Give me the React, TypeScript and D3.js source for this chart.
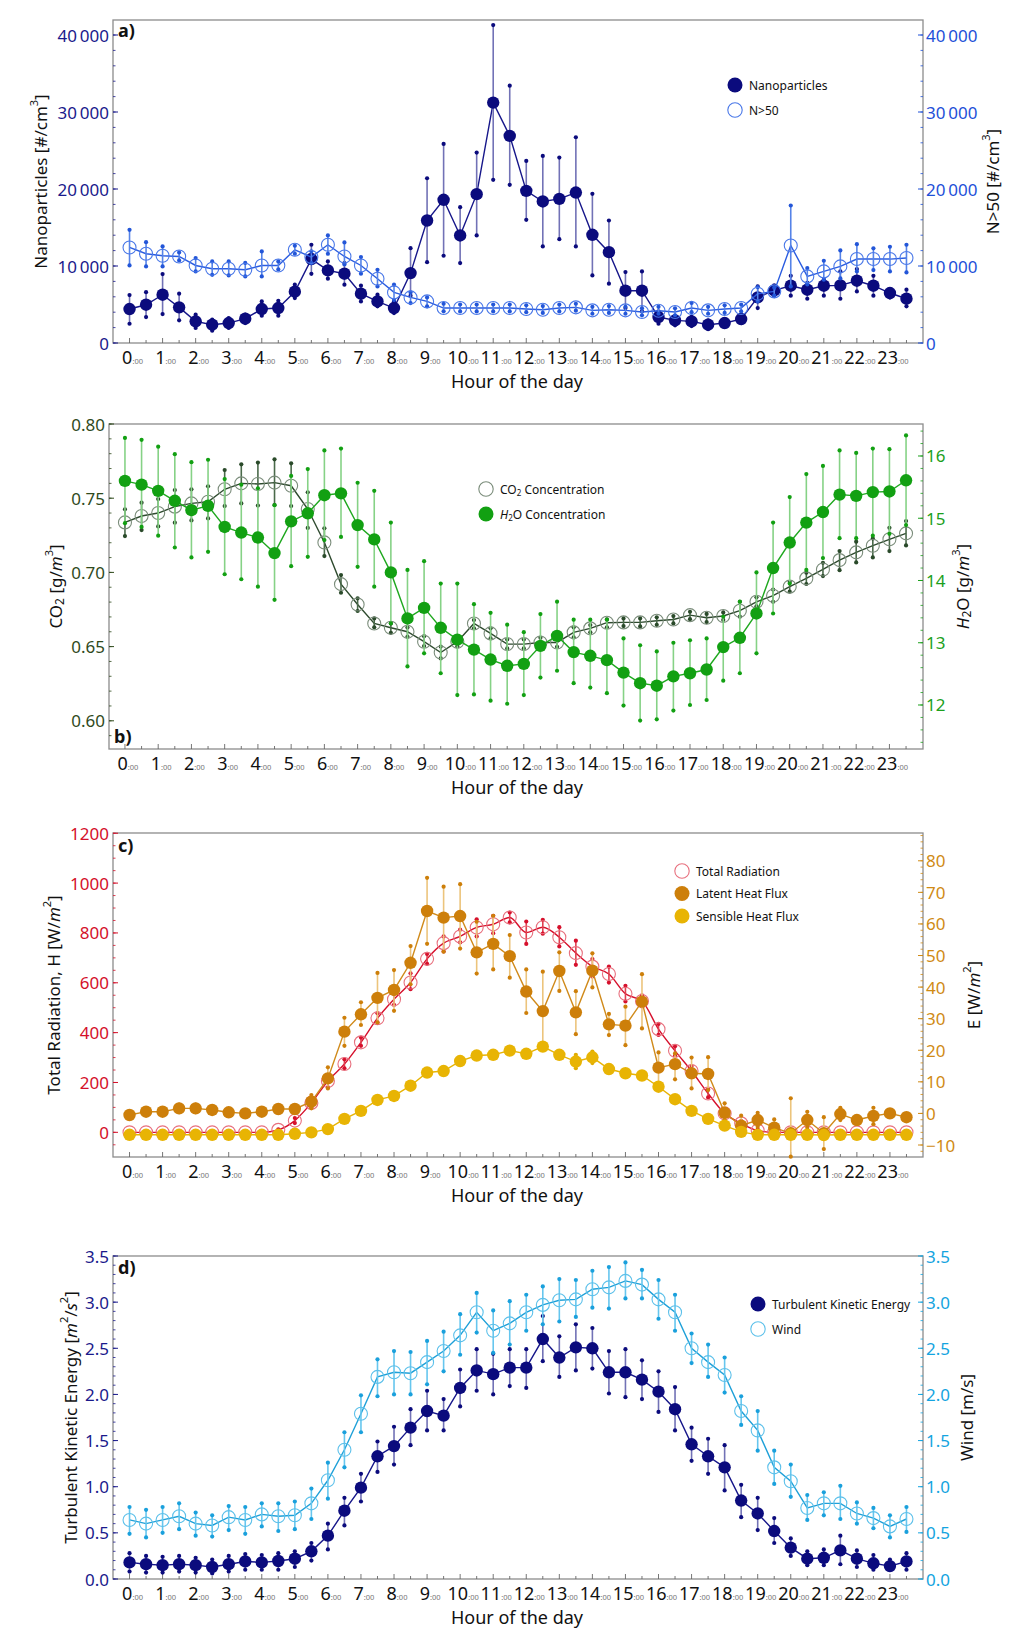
import * as d3 from 'd3'
import type { ReactNode } from 'react'

// half-hour slots of the day
const HOURS = d3.range(0, 24, 0.5)
const HOUR_TICKS = d3.range(0, 24)

// ---- panel a: particle number concentrations [#/cm3]
const NANO = [4410, 4970, 6270, 4630, 2810, 2380, 2590, 3160, 4410, 4540, 6660, 10900, 9430, 9000, 6400, 5400, 4540, 9080, 15910, 18600, 13970, 19330, 31220, 26900, 19760, 18380, 18720, 19540, 14050, 11800, 6790, 6790, 3370, 2940, 2810, 2380, 2590, 3110, 5920, 6830, 7440, 6920, 7440, 7480, 8090, 7440, 6490, 5750]
const NANO_HI = [6230, 6600, 8950, 6400, 3680, 3030, 3240, 3680, 5400, 5490, 7570, 12760, 10600, 10380, 7440, 6270, 5400, 12320, 21400, 25860, 17640, 24730, 41290, 33420, 23650, 24300, 24080, 26720, 19370, 15910, 9210, 9300, 4110, 3460, 3400, 2950, 3100, 3680, 7350, 7500, 8730, 7800, 8220, 9300, 9600, 8730, 7000, 6920]
const NANO_LO = [2500, 3370, 3760, 2940, 1950, 1600, 1950, 2590, 3550, 3550, 5840, 8990, 8350, 7570, 5400, 4760, 3890, 6140, 10500, 11330, 10380, 13970, 21190, 20540, 16000, 12540, 13490, 12540, 8780, 7700, 4540, 4110, 2500, 2290, 2200, 1800, 2100, 2590, 4540, 6100, 6140, 5750, 6140, 5750, 6700, 6140, 5900, 4760]
const N50 = [12410, 11590, 11330, 11240, 10070, 9640, 9640, 9510, 10070, 10070, 12110, 11160, 12760, 11240, 10070, 8350, 6570, 5920, 5400, 4540, 4540, 4540, 4540, 4540, 4410, 4320, 4540, 4630, 4240, 4320, 4240, 4020, 4190, 4020, 4540, 4240, 4410, 4540, 6400, 6700, 12670, 8650, 9300, 9950, 10900, 10900, 10900, 11030]
const N50_HI = [14700, 13100, 12540, 11760, 11030, 10600, 10600, 10400, 11890, 10600, 12630, 11900, 13970, 13060, 11160, 9510, 7570, 6570, 5920, 5100, 5000, 5000, 5000, 5000, 4900, 4800, 5000, 5100, 4700, 4800, 4700, 4500, 4700, 4500, 5200, 4700, 4900, 5000, 7260, 7200, 17860, 9730, 10680, 12020, 12840, 12300, 12500, 12760]
const N50_LO = [10070, 9950, 9950, 10720, 9300, 8860, 8770, 8650, 8650, 9550, 11590, 10380, 11590, 10200, 9000, 7350, 5580, 5190, 4760, 4110, 4100, 4100, 4100, 4100, 4000, 3900, 4100, 4200, 3800, 3900, 3800, 3600, 3800, 3600, 4000, 3800, 3900, 4100, 5400, 6140, 7350, 7600, 8220, 8390, 9300, 9470, 9300, 9170]

// ---- panel b: CO2 and H2O concentrations [g/m3]
const CO2 = [0.7337, 0.738, 0.740, 0.7443, 0.7465, 0.7476, 0.756, 0.760, 0.7596, 0.7605, 0.7584, 0.7427, 0.7202, 0.6921, 0.6784, 0.6656, 0.6627, 0.660, 0.6533, 0.646, 0.6533, 0.6656, 0.6589, 0.6517, 0.6517, 0.6528, 0.6528, 0.6596, 0.6623, 0.6661, 0.6663, 0.6663, 0.6674, 0.6683, 0.6712, 0.6694, 0.6706, 0.6742, 0.6802, 0.6843, 0.6904, 0.696, 0.702, 0.7083, 0.7135, 0.718, 0.7223, 0.7263]
const CO2_HI = [0.7425, 0.747, 0.7494, 0.7555, 0.756, 0.758, 0.769, 0.7728, 0.774, 0.7762, 0.7735, 0.754, 0.7297, 0.6982, 0.6825, 0.669, 0.6656, 0.6629, 0.657, 0.650, 0.6567, 0.6679, 0.6623, 0.6548, 0.6548, 0.656, 0.6567, 0.663, 0.6645, 0.6683, 0.669, 0.669, 0.6697, 0.6706, 0.6735, 0.672, 0.673, 0.6802, 0.6832, 0.6884, 0.6937, 0.6998, 0.7065, 0.7144, 0.7207, 0.7229, 0.7301, 0.7346]
const CO2_LO = [0.7245, 0.7285, 0.731, 0.7335, 0.735, 0.7364, 0.7447, 0.7465, 0.745, 0.7454, 0.7447, 0.730, 0.711, 0.6863, 0.674, 0.663, 0.6593, 0.6566, 0.6504, 0.642, 0.65, 0.6623, 0.6555, 0.6488, 0.6488, 0.650, 0.6499, 0.6562, 0.6596, 0.663, 0.6638, 0.6636, 0.6647, 0.6656, 0.6685, 0.6665, 0.668, 0.6702, 0.6772, 0.6802, 0.687, 0.6922, 0.6975, 0.7015, 0.7067, 0.7101, 0.7144, 0.7182]
const H2O = [15.60, 15.54, 15.44, 15.28, 15.13, 15.20, 14.86, 14.77, 14.69, 14.44, 14.95, 15.08, 15.37, 15.40, 14.89, 14.66, 14.13, 13.39, 13.56, 13.24, 13.05, 12.89, 12.73, 12.63, 12.66, 12.95, 13.11, 12.85, 12.79, 12.72, 12.52, 12.35, 12.31, 12.46, 12.51, 12.57, 12.93, 13.08, 13.47, 14.20, 14.61, 14.93, 15.10, 15.38, 15.36, 15.42, 15.43, 15.61]
const H2O_HI = [16.29, 16.26, 16.15, 16.03, 15.90, 15.94, 15.63, 15.54, 15.48, 15.21, 15.68, 15.79, 16.09, 16.12, 15.57, 15.44, 14.93, 14.17, 14.31, 13.95, 13.95, 13.62, 13.48, 13.29, 13.17, 13.46, 13.66, 13.37, 13.37, 13.37, 13.07, 12.96, 12.86, 13.00, 13.04, 13.07, 13.42, 13.66, 14.13, 14.93, 15.34, 15.71, 15.84, 16.09, 16.05, 16.12, 16.11, 16.33]
const H2O_LO = [14.92, 14.86, 14.72, 14.53, 14.37, 14.46, 14.10, 14.02, 13.90, 13.69, 14.23, 14.38, 14.65, 14.70, 14.22, 13.90, 13.31, 12.62, 12.83, 12.51, 12.16, 12.17, 12.07, 12.02, 12.16, 12.44, 12.55, 12.35, 12.28, 12.19, 11.99, 11.75, 11.77, 11.91, 12.00, 12.08, 12.39, 12.51, 12.83, 13.47, 13.95, 14.17, 14.36, 14.68, 14.68, 14.72, 14.75, 14.89]

// ---- panel c: radiation and heat fluxes [W/m2]
const RAD = [0, 0, 0, 0, 0, 0, 0, 0, 0, 10, 47, 118, 206, 274, 361, 458, 534, 601, 696, 759, 786, 822, 835, 862, 802, 823, 783, 719, 665, 635, 556, 527, 414, 327, 246, 156, 76, 36, 7, 0, 0, 0, 0, 0, 0, 0, 0, 0]
const RAD_HI = [0, 0, 0, 0, 0, 0, 0, 0, 0, 12, 57, 140, 225, 293, 380, 478, 555, 638, 716, 786, 813, 855, 869, 882, 846, 853, 823, 769, 695, 665, 588, 550, 435, 345, 266, 172, 90, 45, 12, 0, 0, 0, 0, 0, 0, 0, 0, 0]
const RAD_LO = [0, 0, 0, 0, 0, 0, 0, 0, 0, 8, 37, 100, 180, 257, 347, 440, 511, 574, 676, 726, 762, 786, 799, 842, 756, 797, 746, 672, 625, 601, 525, 505, 391, 307, 226, 140, 62, 28, 2, 0, 0, 0, 0, 0, 0, 0, 0, 0]
const LATENT = [-0.5, 0.55, 0.55, 1.6, 1.6, 1.1, 0.35, 0, 0.55, 1.4, 1.4, 3.7, 11.1, 25.9, 31.4, 36.6, 39.1, 47.7, 64.1, 62.0, 62.5, 51.0, 53.7, 49.8, 38.6, 32.4, 45.1, 32.0, 45.2, 28.2, 27.8, 35.4, 14.5, 15.6, 12.7, 12.5, 0.2, -3.9, -2.1, -4.5, -6.3, -2.1, -6.3, -0.2, -2.1, -0.8, 0, -1.2]
const LATENT_HI = [0.5, 1.5, 1.5, 2.8, 2.8, 2.0, 1.3, 1.0, 1.5, 2.4, 2.4, 5.8, 14.6, 30.3, 35.2, 44.5, 45.4, 53.0, 74.6, 71.8, 72.6, 60.7, 62.6, 56.5, 45.6, 44.9, 51.0, 38.7, 50.7, 31.5, 33.8, 44.1, 19.3, 19.0, 17.7, 17.8, 3.2, -0.7, 0.2, -1.9, 4.8, 0.5, -1.2, 1.8, -1.0, 1.8, 1.0, -0.2]
const LATENT_LO = [-1.5, -0.4, -0.4, 0.4, 0.4, 0.2, -0.6, -1.0, -0.4, 0.4, 0.4, 1.6, 7.9, 21.4, 28.0, 28.8, 32.5, 40.9, 53.7, 51.2, 52.2, 44.3, 45.6, 43.0, 31.8, 21.1, 38.8, 25.1, 39.9, 24.8, 21.6, 26.9, 9.5, 10.8, 7.9, 7.4, -2.1, -6.3, -4.2, -6.8, -13.7, -4.5, -11.3, -2.1, -3.2, -3.4, -1.0, -2.2]
const SENSIBLE = [-10, -10, -10, -10, -10, -10, -10, -10, -10, -10, -6, 0, 13, 54, 86, 130, 146, 187, 240, 246, 286, 308, 311, 328, 315, 344, 311, 284, 301, 254, 237, 228, 183, 133, 86, 54, 27, 2, -10, -10, -10, -10, -11, -10, -10, -10, -10, -10]
const SENSIBLE_HI = [-6, -6, -6, -6, -6, -6, -6, -6, -6, -6, -2, 4, 18, 59, 92, 136, 152, 193, 247, 253, 293, 315, 318, 336, 323, 352, 320, 311, 324, 262, 245, 236, 190, 139, 91, 59, 31, 6, -6, -6, -6, -6, -7, -6, -6, -6, -6, -6]
const SENSIBLE_LO = [-14, -14, -14, -14, -14, -14, -14, -14, -14, -14, -10, -4, 8, 49, 80, 124, 140, 181, 233, 239, 279, 301, 304, 320, 307, 336, 302, 257, 278, 246, 229, 220, 176, 127, 81, 49, 23, -2, -14, -14, -14, -14, -15, -14, -14, -14, -14, -14]

// ---- panel d: turbulence and wind
const TKE = [0.18, 0.16, 0.15, 0.16, 0.15, 0.13, 0.16, 0.19, 0.18, 0.195, 0.22, 0.30, 0.47, 0.74, 0.99, 1.33, 1.44, 1.64, 1.82, 1.77, 2.07, 2.26, 2.22, 2.29, 2.29, 2.60, 2.40, 2.51, 2.50, 2.24, 2.24, 2.16, 2.03, 1.84, 1.46, 1.33, 1.21, 0.85, 0.71, 0.52, 0.34, 0.22, 0.23, 0.31, 0.22, 0.17, 0.14, 0.19]
const TKE_HI = [0.28, 0.25, 0.24, 0.25, 0.23, 0.21, 0.25, 0.27, 0.26, 0.28, 0.30, 0.39, 0.60, 0.88, 1.14, 1.49, 1.65, 1.84, 2.04, 1.95, 2.27, 2.49, 2.44, 2.49, 2.49, 2.85, 2.63, 2.76, 2.72, 2.47, 2.49, 2.37, 2.25, 2.08, 1.64, 1.52, 1.45, 1.02, 0.88, 0.66, 0.44, 0.30, 0.32, 0.47, 0.31, 0.26, 0.21, 0.28]
const TKE_LO = [0.08, 0.07, 0.07, 0.08, 0.07, 0.06, 0.08, 0.10, 0.10, 0.10, 0.13, 0.20, 0.32, 0.58, 0.84, 1.16, 1.24, 1.45, 1.61, 1.61, 1.87, 2.04, 2.00, 2.09, 2.07, 2.36, 2.19, 2.26, 2.28, 2.01, 1.97, 1.95, 1.81, 1.61, 1.28, 1.14, 0.96, 0.67, 0.53, 0.39, 0.25, 0.15, 0.15, 0.16, 0.13, 0.10, 0.10, 0.10]
const WIND = [0.64, 0.60, 0.64, 0.68, 0.60, 0.58, 0.67, 0.64, 0.70, 0.68, 0.69, 0.82, 1.07, 1.40, 1.79, 2.19, 2.24, 2.23, 2.35, 2.47, 2.64, 2.89, 2.69, 2.77, 2.89, 2.97, 3.02, 3.03, 3.14, 3.16, 3.23, 3.19, 3.03, 2.89, 2.50, 2.35, 2.21, 1.82, 1.61, 1.21, 1.06, 0.77, 0.82, 0.82, 0.71, 0.66, 0.57, 0.65]
const WIND_HI = [0.78, 0.75, 0.78, 0.82, 0.72, 0.69, 0.79, 0.78, 0.82, 0.82, 0.84, 0.98, 1.26, 1.59, 1.99, 2.38, 2.47, 2.46, 2.58, 2.68, 2.87, 3.10, 2.91, 3.01, 3.08, 3.17, 3.25, 3.24, 3.34, 3.38, 3.43, 3.35, 3.24, 3.08, 2.66, 2.54, 2.40, 1.98, 1.82, 1.39, 1.24, 0.91, 0.94, 1.01, 0.83, 0.77, 0.69, 0.78]
const WIND_LO = [0.49, 0.45, 0.50, 0.54, 0.47, 0.46, 0.53, 0.49, 0.57, 0.52, 0.54, 0.65, 0.87, 1.21, 1.59, 1.98, 2.00, 2.00, 2.11, 2.25, 2.43, 2.67, 2.45, 2.54, 2.69, 2.76, 2.79, 2.84, 2.94, 2.93, 3.04, 3.04, 2.82, 2.69, 2.34, 2.19, 2.02, 1.67, 1.39, 1.03, 0.89, 0.64, 0.69, 0.65, 0.60, 0.55, 0.45, 0.51]

// tick labels
const TICKS_A = [0, 10000, 20000, 30000, 40000]
const TICKS_B_LEFT = [0.60, 0.65, 0.70, 0.75, 0.80]
const TICKS_B_RIGHT = [12, 13, 14, 15, 16]
const TICKS_C_LEFT = [0, 200, 400, 600, 800, 1000, 1200]
const TICKS_C_RIGHT = [-10, 0, 10, 20, 30, 40, 50, 60, 70, 80]
const TICKS_D = [0, 0.5, 1.0, 1.5, 2.0, 2.5, 3.0, 3.5]

const FONT = "'Noto Sans', 'Open Sans', sans-serif"

interface SeriesSpec {
  vals: number[]
  hi: number[]
  lo: number[]
  axis: 'left' | 'right'
  filled: boolean
  marker: string
  line: string
  bar: string
  cap: string
  curve?: d3.CurveFactory
}

interface AxisSpec {
  domain: [number, number]
  ticks: number[]
  minor: number[]
  fmt: (v: number) => string
  color: string
}

interface LegendItem { label: ReactNode; filled: boolean; color: string }

interface PanelSpec {
  left: number; right: number; top: number; bottom: number
  xDomain: [number, number]
  leftAxis: AxisSpec
  rightAxis: AxisSpec
  series: SeriesSpec[]
  tag: string
  tagY: number
  leftTitle: ReactNode
  leftTitleX: number
  rightTitle: ReactNode
  rightTitleX: number
  legendX: number
  legendY: number
  legendGap: number
  legend: LegendItem[]
}

const thousands = (v: number) => v >= 10000 ? `${Math.round(v / 1000)}\u2009000` : `${v}`
const minus = (v: number) => v < 0 ? `\u2212${-v}` : `${v}`

const sup = (s: string) => [
  <tspan key="s" dy={-7} fontSize={11}>{s}</tspan>,
]

function Panel({ p }: { p: PanelSpec }) {
  const x = d3.scaleLinear().domain(p.xDomain).range([p.left, p.right])
  const yl = d3.scaleLinear().domain(p.leftAxis.domain).range([p.bottom, p.top])
  const yr = d3.scaleLinear().domain(p.rightAxis.domain).range([p.bottom, p.top])
  const midY = (p.top + p.bottom) / 2

  const inside = (v: number, ax: AxisSpec) => v >= Math.min(...ax.domain) - 1e-9 && v <= Math.max(...ax.domain) + 1e-9

  return (
    <g>
      {/* frame */}
      <rect x={p.left} y={p.top} width={p.right - p.left} height={p.bottom - p.top}
        fill="none" stroke="#8c8c8c" strokeWidth={1.3} />

      {/* left axis */}
      {p.leftAxis.minor.filter(v => inside(v, p.leftAxis)).map(v => (
        <line key={'lm' + v} x1={p.left} x2={p.left + 2.5} y1={yl(v)} y2={yl(v)} stroke={p.leftAxis.color} strokeWidth={0.8} />
      ))}
      {p.leftAxis.ticks.map(v => (
        <g key={'l' + v}>
          <line x1={p.left} x2={p.left + 5} y1={yl(v)} y2={yl(v)} stroke={p.leftAxis.color} strokeWidth={1} />
          <text x={p.left - 4} y={yl(v)} textAnchor="end" dominantBaseline="central"
            fontSize={17} fill={p.leftAxis.color}>{p.leftAxis.fmt(v)}</text>
        </g>
      ))}

      {/* right axis */}
      {p.rightAxis.minor.filter(v => inside(v, p.rightAxis)).map(v => (
        <line key={'rm' + v} x1={p.right} x2={p.right - 2.5} y1={yr(v)} y2={yr(v)} stroke={p.rightAxis.color} strokeWidth={0.8} />
      ))}
      {p.rightAxis.ticks.map(v => (
        <g key={'r' + v}>
          <line x1={p.right} x2={p.right - 5} y1={yr(v)} y2={yr(v)} stroke={p.rightAxis.color} strokeWidth={1} />
          <text x={p.right + 3} y={yr(v)} textAnchor="start" dominantBaseline="central"
            fontSize={17} fill={p.rightAxis.color}>{p.rightAxis.fmt(v)}</text>
        </g>
      ))}

      {/* hour axis */}
      {HOURS.map(h => (
        <line key={'x' + h} x1={x(h)} x2={x(h)} y1={p.bottom} y2={p.bottom - (h % 1 === 0 ? 5 : 3)}
          stroke="#666" strokeWidth={0.9} />
      ))}
      {HOUR_TICKS.map(h => (
        <text key={'xl' + h} x={x(h) + 3} y={p.bottom + 21} textAnchor="middle" fontSize={18} fill="#111">
          <tspan>{h}</tspan>
          <tspan fontSize={7.5} fill="#777">:00</tspan>
        </text>
      ))}
      <text x={517} y={p.bottom + 45} textAnchor="middle" fontSize={18} fill="#111">Hour of the day</text>

      {/* titles */}
      <text transform={`translate(${p.leftTitleX},${midY}) rotate(-90)`} textAnchor="middle"
        dominantBaseline="central" fontSize={17} fill="#111">{p.leftTitle}</text>
      <text transform={`translate(${p.rightTitleX},${midY}) rotate(-90)`} textAnchor="middle"
        dominantBaseline="central" fontSize={17} fill="#111">{p.rightTitle}</text>
      <text x={p.left + 5} y={p.tagY} fontSize={18} fontWeight="bold" fill="#111">{p.tag}</text>

      {/* series */}
      {p.series.map((s, si) => {
        const y = s.axis === 'left' ? yl : yr
        const line = d3.line<number>()
          .x((_, i) => x(HOURS[i]))
          .y(v => y(v))
          .curve(s.curve ?? d3.curveLinear)
        return (
          <g key={'s' + si}>
            <path d={line(s.vals) ?? ''} fill="none" stroke={s.line} strokeWidth={1.4} />
            {s.vals.map((_, i) => (
              <g key={'e' + i}>
                <line x1={x(HOURS[i])} x2={x(HOURS[i])} y1={y(s.lo[i])} y2={y(s.hi[i])}
                  stroke={s.bar} strokeWidth={1.6} />
                <circle cx={x(HOURS[i])} cy={y(s.lo[i])} r={2.1} fill={s.cap} />
                <circle cx={x(HOURS[i])} cy={y(s.hi[i])} r={2.1} fill={s.cap} />
              </g>
            ))}
            {s.vals.map((v, i) => s.filled
              ? <circle key={'m' + i} cx={x(HOURS[i])} cy={y(v)} r={6.2} fill={s.marker} />
              : <circle key={'m' + i} cx={x(HOURS[i])} cy={y(v)} r={6.5} fill="none" stroke={s.marker} strokeWidth={1.1} />)}
          </g>
        )
      })}

      {/* legend */}
      {p.legend.map((it, i) => (
        <g key={'lg' + i} transform={`translate(${p.legendX},${p.legendY + i * p.legendGap})`}>
          {it.filled
            ? <circle r={7.5} fill={it.color} />
            : <circle r={7.2} fill="none" stroke={it.color} strokeWidth={1.1} />}
          <text x={14} y={0} dominantBaseline="central" fontSize={12} fill="#111">{it.label}</text>
        </g>
      ))}
    </g>
  )
}

const C = {
  navy: '#0b0b7d', navyLine: '#16168a', navyBar: '#7272b6', navyText: '#1a1a8c',
  blue: '#4a78e8', blueLine: '#2a5ce0', blueBar: '#5583e8', blueCap: '#2356d8', blueText: '#1e50d8',
  green: '#12a012', greenLine: '#1fa81f', greenBar: '#86d286', greenText: '#1ca01c',
  co2: '#7a8c7a', co2Line: '#2e4a2e', co2Bar: '#4a6a4a', co2Cap: '#2a4a2a', oliveText: '#2f4a1c',
  red: '#e8707e', redLine: '#d6102c', redBar: '#e04050', redText: '#d4102a',
  orange: '#cd7f0a', orangeLine: '#d08a1a', orangeBar: '#ecc47c', orangeText: '#d08a14',
  gold: '#e8b404', goldBar: '#f0d060', goldCap: '#e0ac00',
  cyan: '#5cc0ea', cyanLine: '#1ea0d8', cyanBar: '#66c6ee', cyanCap: '#1aa0dc', cyanText: '#14a4e0',
}

const PANELS: PanelSpec[] = [
  {
    left: 113, right: 923, top: 20, bottom: 343, xDomain: [-0.5, 24],
    leftAxis: { domain: [0, 41950], ticks: TICKS_A, minor: d3.range(0, 42000, 2000), fmt: thousands, color: C.navyText },
    rightAxis: { domain: [0, 41950], ticks: TICKS_A, minor: d3.range(0, 42000, 2000), fmt: thousands, color: C.blueText },
    series: [
      { vals: NANO, hi: NANO_HI, lo: NANO_LO, axis: 'left', filled: true, marker: C.navy, line: C.navyLine, bar: C.navyBar, cap: C.navy },
      { vals: N50, hi: N50_HI, lo: N50_LO, axis: 'right', filled: false, marker: C.blue, line: C.blueLine, bar: C.blueBar, cap: C.blueCap },
    ],
    tag: 'a)', tagY: 37,
    leftTitle: <>Nanoparticles [#/cm{sup('3')}<tspan dy={7}>]</tspan></>, leftTitleX: 40,
    rightTitle: <>N&gt;50 [#/cm{sup('3')}<tspan dy={7}>]</tspan></>, rightTitleX: 992,
    legendX: 735, legendY: 85, legendGap: 25,
    legend: [
      { label: 'Nanoparticles', filled: true, color: C.navy },
      { label: 'N>50', filled: false, color: C.blue },
    ],
  },
  {
    left: 109, right: 923, top: 424, bottom: 749, xDomain: [-0.48, 24.01],
    leftAxis: { domain: [0.581, 0.80], ticks: TICKS_B_LEFT, minor: d3.range(0.58, 0.805, 0.01), fmt: d3.format('.2f'), color: C.oliveText },
    rightAxis: { domain: [11.293, 16.514], ticks: TICKS_B_RIGHT, minor: d3.range(11.4, 16.6, 0.2), fmt: d3.format('d'), color: C.greenText },
    series: [
      { vals: CO2, hi: CO2_HI, lo: CO2_LO, axis: 'left', filled: false, marker: C.co2, line: C.co2Line, bar: C.co2Bar, cap: C.co2Cap },
      { vals: H2O, hi: H2O_HI, lo: H2O_LO, axis: 'right', filled: true, marker: C.green, line: C.greenLine, bar: C.greenBar, cap: C.green },
    ],
    tag: 'b)', tagY: 743,
    leftTitle: <>CO<tspan dy={4} fontSize={12}>2</tspan><tspan dy={-4}> [g/</tspan><tspan fontStyle="italic">m</tspan>{sup('3')}<tspan dy={7}>]</tspan></>, leftTitleX: 55,
    rightTitle: <><tspan fontStyle="italic">H</tspan><tspan dy={4} fontSize={12}>2</tspan><tspan dy={-4}>O [g/</tspan><tspan fontStyle="italic">m</tspan>{sup('3')}<tspan dy={7}>]</tspan></>, rightTitleX: 962,
    legendX: 486, legendY: 489, legendGap: 25,
    legend: [
      { label: <>CO<tspan dy={3} fontSize={8}>2</tspan><tspan dy={-3}> Concentration</tspan></>, filled: false, color: C.co2 },
      { label: <><tspan fontStyle="italic">H</tspan><tspan dy={3} fontSize={8}>2</tspan><tspan dy={-3}>O Concentration</tspan></>, filled: true, color: C.green },
    ],
  },
  {
    left: 113, right: 923, top: 833, bottom: 1157, xDomain: [-0.5, 24],
    leftAxis: { domain: [-99, 1201], ticks: TICKS_C_LEFT, minor: d3.range(-50, 1201, 50), fmt: d3.format('d'), color: C.redText },
    rightAxis: { domain: [-13.8, 88.8], ticks: TICKS_C_RIGHT, minor: d3.range(-12, 89, 2), fmt: minus, color: C.orangeText },
    series: [
      { vals: RAD, hi: RAD_HI, lo: RAD_LO, axis: 'left', filled: false, marker: C.red, line: C.redLine, bar: C.redBar, cap: C.redLine, curve: d3.curveMonotoneX },
      { vals: LATENT, hi: LATENT_HI, lo: LATENT_LO, axis: 'right', filled: true, marker: C.orange, line: C.orangeLine, bar: C.orangeBar, cap: C.orange },
      { vals: SENSIBLE, hi: SENSIBLE_HI, lo: SENSIBLE_LO, axis: 'left', filled: true, marker: C.gold, line: C.gold, bar: C.goldBar, cap: C.goldCap },
    ],
    tag: 'c)', tagY: 852,
    leftTitle: <>Total Radiation, H [W/<tspan fontStyle="italic">m</tspan>{sup('2')}<tspan dy={7}>]</tspan></>, leftTitleX: 53,
    rightTitle: <>E [W/<tspan fontStyle="italic">m</tspan>{sup('2')}<tspan dy={7}>]</tspan></>, rightTitleX: 973,
    legendX: 682, legendY: 871, legendGap: 22.5,
    legend: [
      { label: 'Total Radiation', filled: false, color: C.red },
      { label: 'Latent Heat Flux', filled: true, color: C.orange },
      { label: 'Sensible Heat Flux', filled: true, color: C.gold },
    ],
  },
  {
    left: 113, right: 923, top: 1256, bottom: 1579, xDomain: [-0.5, 24],
    leftAxis: { domain: [0, 3.5], ticks: TICKS_D, minor: d3.range(0, 3.55, 0.1), fmt: d3.format('.1f'), color: C.navyText },
    rightAxis: { domain: [0, 3.5], ticks: TICKS_D, minor: d3.range(0, 3.55, 0.1), fmt: d3.format('.1f'), color: C.cyanText },
    series: [
      { vals: TKE, hi: TKE_HI, lo: TKE_LO, axis: 'left', filled: true, marker: C.navy, line: C.navyLine, bar: C.navyBar, cap: C.navy },
      { vals: WIND, hi: WIND_HI, lo: WIND_LO, axis: 'right', filled: false, marker: C.cyan, line: C.cyanLine, bar: C.cyanBar, cap: C.cyanCap },
    ],
    tag: 'd)', tagY: 1274,
    leftTitle: <>Turbulent Kinetic Energy [<tspan fontStyle="italic">m</tspan>{sup('2')}<tspan dy={7}>/</tspan><tspan fontStyle="italic">s</tspan>{sup('2')}<tspan dy={7}>]</tspan></>, leftTitleX: 70,
    rightTitle: <>Wind [m/s]</>, rightTitleX: 966,
    legendX: 758, legendY: 1304, legendGap: 25,
    legend: [
      { label: 'Turbulent Kinetic Energy', filled: true, color: C.navy },
      { label: 'Wind', filled: false, color: C.cyan },
    ],
  },
]

export default function App() {
  return (
    <svg width={1024} height={1652} viewBox="0 0 1024 1652"
      style={{ position: 'absolute', left: 0, top: 0, background: '#fff', fontFamily: FONT }}>
      <rect width={1024} height={1652} fill="#fff" />
      {PANELS.map((p, i) => <Panel key={i} p={p} />)}
    </svg>
  )
}
